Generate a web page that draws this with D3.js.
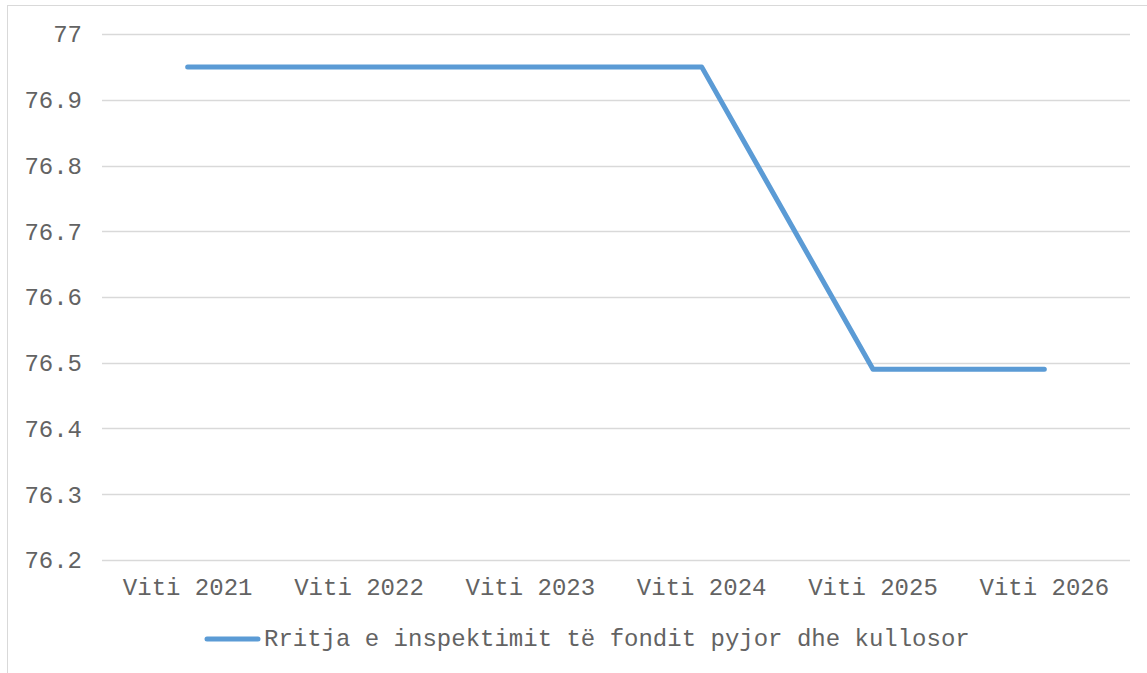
<!DOCTYPE html>
<html>
<head>
<meta charset="utf-8">
<script src="https://cdn.jsdelivr.net/npm/d3@7"></script>
<style>
  body { margin: 0; background: #fff; }
  text { font-family: "Liberation Mono", "Courier New", monospace; fill: #636363; }
</style>
</head>
<body>
<div id="chart"></div>
<script>
var categories = ["Viti 2021", "Viti 2022", "Viti 2023", "Viti 2024", "Viti 2025", "Viti 2026"];
var values = [76.95, 76.95, 76.95, 76.95, 76.49, 76.49];
var yTicks = [76.2, 76.3, 76.4, 76.5, 76.6, 76.7, 76.8, 76.9, 77];
var seriesName = "Rritja e inspektimit të fondit pyjor dhe kullosor";

var W = 1147, H = 673;
var svg = d3.select("#chart").append("svg")
    .attr("width", W).attr("height", H);

// outer chart border
svg.append("rect")
    .attr("x", 7.5).attr("y", 5.5)
    .attr("width", W + 10).attr("height", H + 10)
    .attr("fill", "none").attr("stroke", "#d9d9d9").attr("stroke-width", 1);

var x = d3.scaleBand().domain(categories).range([102, 1130]);
var y = d3.scaleLinear().domain([76.2, 77]).range([560, 34]);

svg.selectAll(".grid")
    .data(yTicks)
    .enter()
    .append("line")
    .attr("x1", 102).attr("x2", 1130)
    .attr("y1", function(d) { return Math.round(y(d)) + 0.5; })
    .attr("y2", function(d) { return Math.round(y(d)) + 0.5; })
    .attr("stroke", "#d9d9d9").attr("stroke-width", 1.3);

svg.selectAll(".ylab")
    .data(yTicks)
    .enter()
    .append("text")
    .attr("x", 82)
    .attr("y", function(d) { return y(d); })
    .attr("dy", "0.35em")
    .attr("text-anchor", "end")
    .style("font-size", "24px")
    .text(function(d) { return d3.format("")(d); });

svg.selectAll(".xlab")
    .data(categories)
    .enter()
    .append("text")
    .attr("x", function(d) { return x(d) + x.bandwidth() / 2; })
    .attr("y", 595)
    .attr("text-anchor", "middle")
    .style("font-size", "24px")
    .text(function(d) { return d; });

var line = d3.line()
    .x(function(d, i) { return x(categories[i]) + x.bandwidth() / 2; })
    .y(function(d) { return y(d); });

svg.append("path")
    .datum(values)
    .attr("d", line)
    .attr("fill", "none")
    .attr("stroke", "#5b9bd5")
    .attr("stroke-width", 5)
    .attr("stroke-linecap", "round")
    .attr("stroke-linejoin", "round");

// legend
svg.append("line")
    .attr("x1", 207).attr("x2", 258)
    .attr("y1", 639).attr("y2", 639)
    .attr("stroke", "#5b9bd5").attr("stroke-width", 5)
    .attr("stroke-linecap", "round");

svg.append("text")
    .attr("x", 264).attr("y", 646)
    .style("font-size", "24px")
    .text(seriesName);
</script>
</body>
</html>
